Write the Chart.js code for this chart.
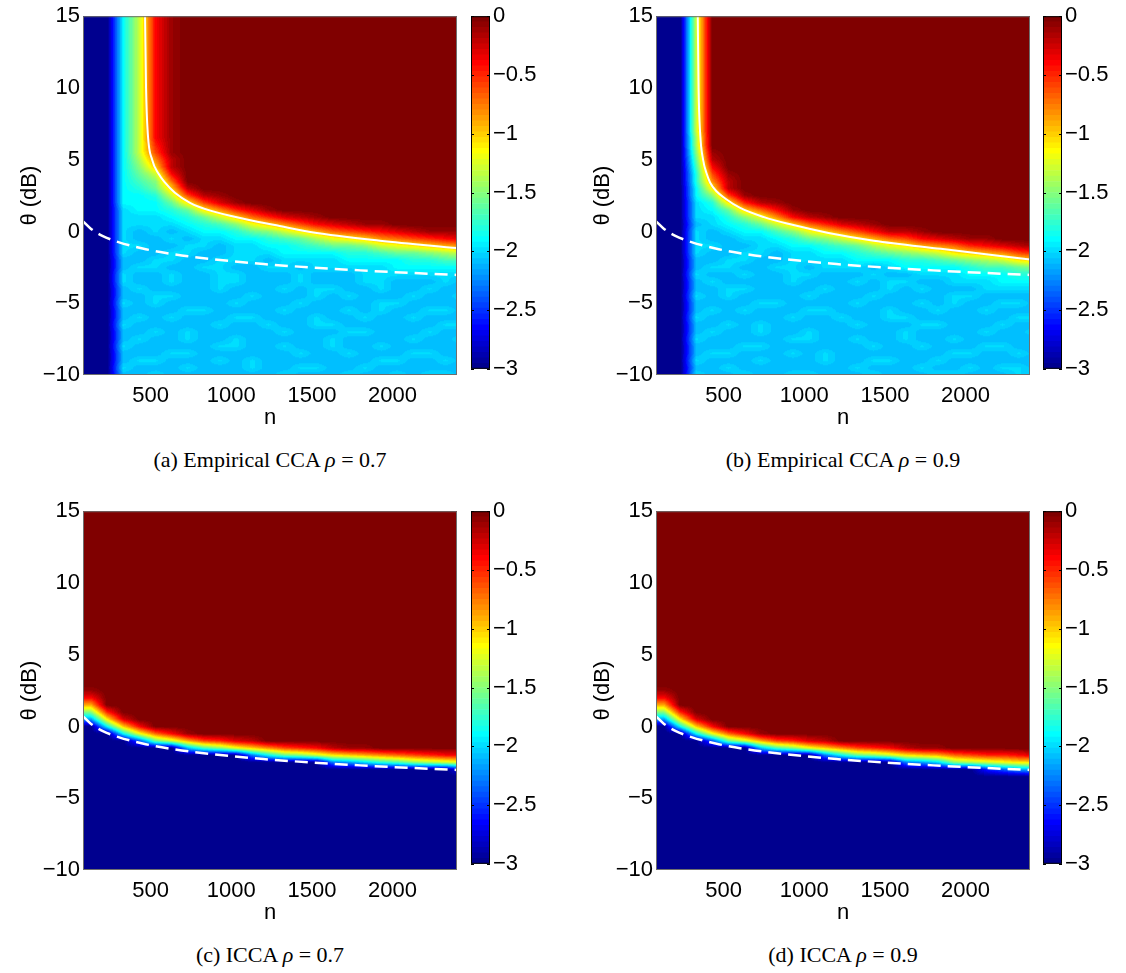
<!DOCTYPE html>
<html>
<head>
<meta charset="utf-8">
<script src="https://cdn.jsdelivr.net/npm/chart.js@4/dist/chart.umd.min.js"></script>
<style>
  body { margin: 0; background: #fff; }
  #page { position: relative; width: 1126px; height: 973px; overflow: hidden; background: #fff; }
  .cap { position: absolute; font-family: "Liberation Serif", "Times New Roman", serif; font-size: 22px;
         color: #000; white-space: nowrap; transform: translateX(-50%); line-height: 26px; }
</style>
</head>
<body>
<div id="page"></div>
<script>
// ---- Data ----

// axis ticks
const xTicks = [500, 1000, 1500, 2000];
const yTicks = [15, 10, 5, 0, -5, -10];
const cbTicks = [0, -0.5, -1, -1.5, -2, -2.5, -3];

// heat map grid: column centres (n) and row centres (theta, dB)
const nCols = [130, 230, 330, 430, 530, 630, 730, 830, 930, 1030, 1130, 1230,
               1330, 1430, 1530, 1630, 1730, 1830, 1930, 2030, 2130, 2230, 2330, 2430];
const thetaRows = [15, 7, 6.5, 6, 5.5, 5, 4.5, 4, 3.5, 3, 2.5, 2, 1.5, 1, 0.5, 0,
                   -0.5, -1, -1.5, -2, -2.5, -3, -3.5, -4, -4.5, -5, -5.5, -6, -6.5,
                   -7, -7.5, -8, -8.5, -9, -9.5, -10];

// cell levels: char k of this string means value -3 + 0.1*k  ('0' = -3, 'U' = 0)
const levels = '0123456789ABCDEFGHIJKLMNOPQRSTU';

// (a) Empirical CCA rho = 0.7
const gridA = [
  '00BH QTUU UUUU UUUU UUUU UUUU',
  '00BH QTUU UUUU UUUU UUUU UUUU',
  '00BH QTUU UUUU UUUU UUUU UUUU',
  '00BH PTUU UUUU UUUU UUUU UUUU',
  '00BH OTUU UUUU UUUU UUUU UUUU',
  '00BG MSUU UUUU UUUU UUUU UUUU',
  '00BF KSUU UUUU UUUU UUUU UUUU',
  '00BE HQUU UUUU UUUU UUUU UUUU',
  '00BD FNUU UUUU UUUU UUUU UUUU',
  '00BC EKSU UUUU UUUU UUUU UUUU',
  '00BB CHOS TUUU UUUU UUUU UUUU',
  '00BB BEJO RTUU UUUU UUUU UUUU',
  '00AB BCEJ MPRT UUUU UUUU UUUU',
  '00AA ABCE HKNP RSTU UUUU UUUU',
  '00AA AABC DFIK MOQR STTU UUUU',
  '00A9 A9AB BCEF HJLN OPQR STTT',
  '00A9 9A9A ABBC DEGI JKMN OPQR',
  '00AA 99AA 9AAB BCDE EFHI JKLM',
  '00A9 9AA9 9AAA BBBB CCDE EFGH',
  '0099 AA99 AAA9 AAAA BBBB CCDD',
  '009A A99A A99A A9AA AAAB BBBB',
  '00A9 9A99 AA99 9A99 9AAA AAAA',
  '00A9 9A99 AA99 9A99 9AA9 99A9',
  '009A 9999 A999 A9AA 99A9 9A99',
  '0099 AA99 99A9 99A9 A999 A99A',
  '00A9 A999 9A99 9A99 99AA 9999',
  '0099 99AA 9999 A999 A9A9 9AA9',
  '009A 9A99 9AA9 99A9 9A99 A999',
  '00A9 9999 A99A 99AA 9999 99AA',
  '0099 A9A9 9999 A999 AA99 9A99',
  '009A 99A9 9A99 999A 9999 A99A',
  '00A9 9999 AA99 A99A 99A9 9999',
  '0099 9AA9 9999 9A99 A999 AA99',
  '009A A999 A9A9 9999 99AA 99A9',
  '00A9 99A9 99A9 9AA9 9A99 9999',
  '0099 A999 9999 A999 A99A 9AA9'
];

// (b) Empirical CCA rho = 0.9
const gridB = [
  '00HU UUUU UUUU UUUU UUUU UUUU',
  '00HU UUUU UUUU UUUU UUUU UUUU',
  '00GU UUUU UUUU UUUU UUUU UUUU',
  '00GU UUUU UUUU UUUU UUUU UUUU',
  '00FT UUUU UUUU UUUU UUUU UUUU',
  '00ES UUUU UUUU UUUU UUUU UUUU',
  '00DQ UUUU UUUU UUUU UUUU UUUU',
  '00CO TUUU UUUU UUUU UUUU UUUU',
  '00CM SUUU UUUU UUUU UUUU UUUU',
  '00BJ SUUU UUUU UUUU UUUU UUUU',
  '00BF OTUU UUUU UUUU UUUU UUUU',
  '00AC JPST UUUU UUUU UUUU UUUU',
  '00AB EKNQ TUUU UUUU UUUU UUUU',
  '00AA CFIM QSTU UUUU UUUU UUUU',
  '009A BCEH KNPR STUU UUUU UUUU',
  '00A9 ABBD FIKM OQSS TUUU UUUU',
  '00A9 9AAB CEFH JLNO QRST TUUU',
  '00AA 99AA BBCD EGIJ LMNP QRST',
  '00A9 9AA9 AABB CDEF GHJK LMOP',
  '0099 AA99 AAAA BBBC CDEF GHJK',
  '009A A99A A9AA A9AB BBBC DDEF',
  '00A9 9A99 AA99 9A99 AAAB BBCC',
  '009A 9999 A999 A9AA 99AA ABBB',
  '0099 AA99 99A9 99A9 A999 AAAA',
  '00A9 A999 9A99 9A99 99AA 9999',
  '0099 99AA 9999 A999 A9A9 9AA9',
  '009A 9A99 9AA9 99A9 9A99 A999',
  '00A9 9999 A99A 99AA 9999 99AA',
  '0099 A9A9 9999 A999 AA99 9A99',
  '009A 99A9 9A99 999A 9999 A99A',
  '00A9 9999 AA99 A99A 99A9 9999',
  '0099 9AA9 9999 9A99 A999 AA99',
  '009A A999 A9A9 9999 99AA 99A9',
  '00A9 99A9 99A9 9AA9 9A99 9999',
  '0099 A999 9999 A999 A99A 9AA9',
  '00A9 9A99 AA99 9A99 9AA9 99A9'
];

// (c) ICCA rho = 0.7
const gridC = [
  'UUUU UUUU UUUU UUUU UUUU UUUU',
  'UUUU UUUU UUUU UUUU UUUU UUUU',
  'UUUU UUUU UUUU UUUU UUUU UUUU',
  'UUUU UUUU UUUU UUUU UUUU UUUU',
  'UUUU UUUU UUUU UUUU UUUU UUUU',
  'UUUU UUUU UUUU UUUU UUUU UUUU',
  'UUUU UUUU UUUU UUUU UUUU UUUU',
  'UUUU UUUU UUUU UUUU UUUU UUUU',
  'UUUU UUUU UUUU UUUU UUUU UUUU',
  'UUUU UUUU UUUU UUUU UUUU UUUU',
  'TUUU UUUU UUUU UUUU UUUU UUUU',
  'QUUU UUUU UUUU UUUU UUUU UUUU',
  'LUUU UUUU UUUU UUUU UUUU UUUU',
  'FPUU UUUU UUUU UUUU UUUU UUUU',
  '8JRU UUUU UUUU UUUU UUUU UUUU',
  '0BKQ UUUU UUUU UUUU UUUU UUUU',
  '00BI NQTU UUUU UUUU UUUU UUUU',
  '0006 EHLO PRSU UUUU UUUU UUUU',
  '0000 009D FIKM OPQS TTUU UUUU',
  '0000 0000 007B EFHJ KLMN OPQQ',
  '0000 0000 0000 0007 8ACD FGHI',
  '0000 0000 0000 0000 0000 0004',
  '0000 0000 0000 0000 0000 0000',
  '0000 0000 0000 0000 0000 0000',
  '0000 0000 0000 0000 0000 0000',
  '0000 0000 0000 0000 0000 0000',
  '0000 0000 0000 0000 0000 0000',
  '0000 0000 0000 0000 0000 0000',
  '0000 0000 0000 0000 0000 0000',
  '0000 0000 0000 0000 0000 0000',
  '0000 0000 0000 0000 0000 0000',
  '0000 0000 0000 0000 0000 0000',
  '0000 0000 0000 0000 0000 0000',
  '0000 0000 0000 0000 0000 0000',
  '0000 0000 0000 0000 0000 0000',
  '0000 0000 0000 0000 0000 0000'
];

// (d) ICCA rho = 0.9
const gridD = [
  'UUUU UUUU UUUU UUUU UUUU UUUU',
  'UUUU UUUU UUUU UUUU UUUU UUUU',
  'UUUU UUUU UUUU UUUU UUUU UUUU',
  'UUUU UUUU UUUU UUUU UUUU UUUU',
  'UUUU UUUU UUUU UUUU UUUU UUUU',
  'UUUU UUUU UUUU UUUU UUUU UUUU',
  'UUUU UUUU UUUU UUUU UUUU UUUU',
  'UUUU UUUU UUUU UUUU UUUU UUUU',
  'UUUU UUUU UUUU UUUU UUUU UUUU',
  'UUUU UUUU UUUU UUUU UUUU UUUU',
  'TUUU UUUU UUUU UUUU UUUU UUUU',
  'QUUU UUUU UUUU UUUU UUUU UUUU',
  'LUUU UUUU UUUU UUUU UUUU UUUU',
  'FPUU UUUU UUUU UUUU UUUU UUUU',
  '8JRU UUUU UUUU UUUU UUUU UUUU',
  '0BKQ UUUU UUUU UUUU UUUU UUUU',
  '00BI NQTU UUUU UUUU UUUU UUUU',
  '0006 EHLO PRSU UUUU UUUU UUUU',
  '0000 009D FIKM OPQS TTUU UUUU',
  '0000 0000 007B EFHJ KLNO PPQR',
  '0000 0000 0000 0007 8AFG HIJJ',
  '0000 0000 0000 0000 0000 4689',
  '0000 0000 0000 0000 0000 0000',
  '0000 0000 0000 0000 0000 0000',
  '0000 0000 0000 0000 0000 0000',
  '0000 0000 0000 0000 0000 0000',
  '0000 0000 0000 0000 0000 0000',
  '0000 0000 0000 0000 0000 0000',
  '0000 0000 0000 0000 0000 0000',
  '0000 0000 0000 0000 0000 0000',
  '0000 0000 0000 0000 0000 0000',
  '0000 0000 0000 0000 0000 0000',
  '0000 0000 0000 0000 0000 0000',
  '0000 0000 0000 0000 0000 0000',
  '0000 0000 0000 0000 0000 0000',
  '0000 0000 0000 0000 0000 0000'
];

// white curves: [n, theta dB]
const solidA = [[465, 15], [471, 10], [482, 6.8], [509, 5.0], [550, 4.0], [589, 3.4], [650, 2.7],
                [744, 2.0], [870, 1.45], [1096, 0.84], [1300, 0.38], [1509, -0.07], [1922, -0.64], [2400, -1.16]];
const solidB = [[339, 15], [344, 10], [354, 6.8], [372, 5.0], [395, 4.0], [416, 3.4], [455, 2.8],
                [509, 2.3], [602, 1.64], [750, 1.0], [913, 0.5], [1150, -0.1], [1431, -0.64], [1846, -1.21], [2400, -1.95]];
const dashedCurve = [[80, 0.71], [130, 0.18], [200, -0.3], [300, -0.74], [450, -1.19], [650, -1.6],
                     [900, -1.95], [1200, -2.27], [1500, -2.51], [1800, -2.71], [2100, -2.88], [2400, -3.03]];

// ---- Colour map (MATLAB jet, 64 entries) ----
const jet = (function () {
    const n = 64, m = 16;
    const u = [];
    for (let i = 1; i <= m; i++) u.push(i / m);
    for (let i = 1; i < m; i++) u.push(1);
    for (let i = m; i >= 1; i--) u.push(i / m);
    const J = [];
    for (let i = 0; i < n; i++) J.push([0, 0, 0]);
    const off = Math.ceil(m / 2) - (n % 4 === 1 ? 1 : 0);
    u.forEach(function (v, k) {
        const g = off + k + 1, r = g + m, b = g - m;
        if (r <= n) J[r - 1][0] = v;
        if (g <= n) J[g - 1][1] = v;
        if (b >= 1) J[b - 1][2] = v;
    });
    return J.map(c => c.map(v => Math.round(v * 255)));
})();
const cMin = cbTicks[cbTicks.length - 1], cMax = cbTicks[0];

function colourIndex(v) {
    return Math.max(0, Math.min(jet.length - 1, Math.floor((v - cMin) / (cMax - cMin) * jet.length)));
}

const FONT = { family: '"Liberation Sans", Arial, sans-serif', size: 22 };
const minus = v => String(v).replace('-', '\u2212');

function place(left, top, w, h) {
    const c = document.createElement('canvas');
    c.width = w;
    c.height = h;
    c.style.cssText = 'position:absolute;left:' + left + 'px;top:' + top + 'px;width:' + w + 'px;height:' + h + 'px';
    document.getElementById('page').appendChild(c);
    return c;
}

// heat map, drawn cell grid -> pixels through the chart scales
function heatPlugin(grid) {
    const vals = grid.map(r => r.replace(/ /g, '').split('').map(ch => cMin + levels.indexOf(ch) * 0.1));
    return {
        id: 'heat',
        beforeDatasetsDraw(chart) {
            const area = chart.chartArea;
            const xs = chart.scales.x, ys = chart.scales.y;
            const w = Math.round(area.right - area.left), h = Math.round(area.bottom - area.top);
            const off = document.createElement('canvas');
            off.width = w;
            off.height = h;
            const octx = off.getContext('2d');
            const img = octx.createImageData(w, h);
            const ci = [], cf = [];
            for (let px = 0; px < w; px++) {
                const n = xs.getValueForPixel(area.left + px + 0.5);
                let i = 0;
                while (i < nCols.length - 2 && n > nCols[i + 1]) i++;
                ci.push(i);
                cf.push(Math.max(0, Math.min(1, (n - nCols[i]) / (nCols[i + 1] - nCols[i]))));
            }
            for (let py = 0; py < h; py++) {
                const t = ys.getValueForPixel(area.top + py + 0.5);
                let j = 0;
                while (j < thetaRows.length - 2 && t < thetaRows[j + 1]) j++;
                const g = Math.max(0, Math.min(1, (thetaRows[j] - t) / (thetaRows[j] - thetaRows[j + 1])));
                const r0 = vals[j], r1 = vals[j + 1];
                for (let px = 0; px < w; px++) {
                    const i = ci[px], f = cf[px];
                    const v = (1 - g) * ((1 - f) * r0[i] + f * r0[i + 1]) + g * ((1 - f) * r1[i] + f * r1[i + 1]);
                    const c = jet[colourIndex(v)];
                    const k = (py * w + px) * 4;
                    img.data[k] = c[0];
                    img.data[k + 1] = c[1];
                    img.data[k + 2] = c[2];
                    img.data[k + 3] = 255;
                }
            }
            octx.putImageData(img, 0, 0);
            chart.ctx.drawImage(off, area.left, area.top);
        },
        afterDraw(chart) {
            const a = chart.chartArea, ctx = chart.ctx;
            ctx.save();
            ctx.strokeStyle = '#6e6e6e';
            ctx.lineWidth = 1;
            ctx.strokeRect(a.left + 0.5, a.top + 0.5, a.right - a.left - 1, a.bottom - a.top - 1);
            ctx.restore();
        }
    };
}

function heatPanel(pl, pt, grid, solid) {
    const cv = place(pl - 70, pt - 10, 70 + 374 + 8, 10 + 365 + 60);
    const sets = [];
    if (solid) {
        sets.push({
            data: solid.map(p => ({ x: p[0], y: p[1] })),
            showLine: true, borderColor: '#ffffff', borderWidth: 2, pointRadius: 0,
            cubicInterpolationMode: 'monotone'
        });
    }
    sets.push({
        data: dashedCurve.map(p => ({ x: p[0], y: p[1] })),
        showLine: true, borderColor: '#ffffff', borderWidth: 2.5, borderDash: [13, 7], pointRadius: 0,
        cubicInterpolationMode: 'monotone'
    });
    new Chart(cv, {
        type: 'scatter',
        data: { datasets: sets },
        options: {
            responsive: false,
            animation: false,
            devicePixelRatio: 1,
            layout: { padding: { top: 10, right: 8, left: 0, bottom: 0 } },
            plugins: { legend: { display: false }, tooltip: { enabled: false } },
            scales: {
                x: {
                    type: 'linear', min: 80, max: 2400,
                    afterBuildTicks: s => { s.ticks = xTicks.map(v => ({ value: v })); },
                    afterFit: s => { s.height = 60; },
                    grid: { display: false, drawTicks: false },
                    border: { display: false },
                    ticks: { font: FONT, color: '#000', padding: 8, maxRotation: 0, callback: v => String(v) },
                    title: { display: true, text: 'n', font: FONT, color: '#000', padding: { top: 0, bottom: 4 } }
                },
                y: {
                    type: 'linear', min: -10, max: 15,
                    afterBuildTicks: s => { s.ticks = yTicks.map(v => ({ value: v })); },
                    afterFit: s => { s.width = 70; },
                    grid: { display: false, drawTicks: false },
                    border: { display: false },
                    ticks: { font: FONT, color: '#000', padding: 3, callback: v => minus(v) },
                    title: { display: true, text: '\u03b8 (dB)', font: FONT, color: '#000', padding: { top: 4, bottom: 0 } }
                }
            }
        },
        plugins: [heatPlugin(grid)]
    });
}

const cbFrame = {
    id: 'cbFrame',
    afterDraw(chart) {
        const a = chart.chartArea, ctx = chart.ctx, ys = chart.scales.y;
        ctx.save();
        ctx.strokeStyle = '#000';
        ctx.lineWidth = 1;
        ctx.strokeRect(a.left + 0.5, a.top + 0.5, a.right - a.left - 1, a.bottom - a.top - 1);
        cbTicks.forEach(function (t) {
            const y = Math.round(ys.getPixelForValue(t)) + 0.5;
            ctx.beginPath();
            ctx.moveTo(a.left, y); ctx.lineTo(a.left + 3, y);
            ctx.moveTo(a.right - 3, y); ctx.lineTo(a.right, y);
            ctx.stroke();
        });
        ctx.restore();
    }
};

function colourBar(cl, pt) {
    const cv = place(cl, pt - 10, 19 + 60, 10 + 365 + 10);
    const step = (cMax - cMin) / jet.length;
    const sets = jet.map((c, i) => ({
        data: [[cMin + i * step, cMin + (i + 1) * step]],
        backgroundColor: 'rgb(' + c.join(',') + ')',
        borderWidth: 0, barPercentage: 1, categoryPercentage: 1, grouped: false
    }));
    new Chart(cv, {
        type: 'bar',
        data: { labels: ['c'], datasets: sets },
        options: {
            responsive: false,
            animation: false,
            devicePixelRatio: 1,
            layout: { padding: { top: 10, bottom: 10, left: 0, right: 0 } },
            plugins: { legend: { display: false }, tooltip: { enabled: false } },
            scales: {
                x: { display: false },
                y: {
                    position: 'right', min: cMin, max: cMax,
                    afterBuildTicks: s => { s.ticks = cbTicks.map(v => ({ value: v })); },
                    afterFit: s => { s.width = 60; },
                    grid: { display: false, drawTicks: false },
                    border: { display: false },
                    ticks: { font: FONT, color: '#000', padding: 3, callback: v => minus(v) }
                }
            }
        },
        plugins: [cbFrame]
    });
}

function caption(cx, top, html) {
    const d = document.createElement('div');
    d.className = 'cap';
    d.style.left = cx + 'px';
    d.style.top = top + 'px';
    d.innerHTML = html;
    document.getElementById('page').appendChild(d);
}

// ---- Layout ----
heatPanel(83, 10, gridA, solidA);
colourBar(471, 10);
heatPanel(656, 10, gridB, solidB);
colourBar(1043, 10);
heatPanel(83, 505, gridC, null);
colourBar(471, 505);
heatPanel(656, 505, gridD, null);
colourBar(1043, 505);

caption(270, 447, '(a) Empirical CCA <i>\u03c1</i> = 0.7');
caption(843, 447, '(b) Empirical CCA <i>\u03c1</i> = 0.9');
caption(270, 942, '(c) ICCA <i>\u03c1</i> = 0.7');
caption(843, 942, '(d) ICCA <i>\u03c1</i> = 0.9');
</script>
</body>
</html>
